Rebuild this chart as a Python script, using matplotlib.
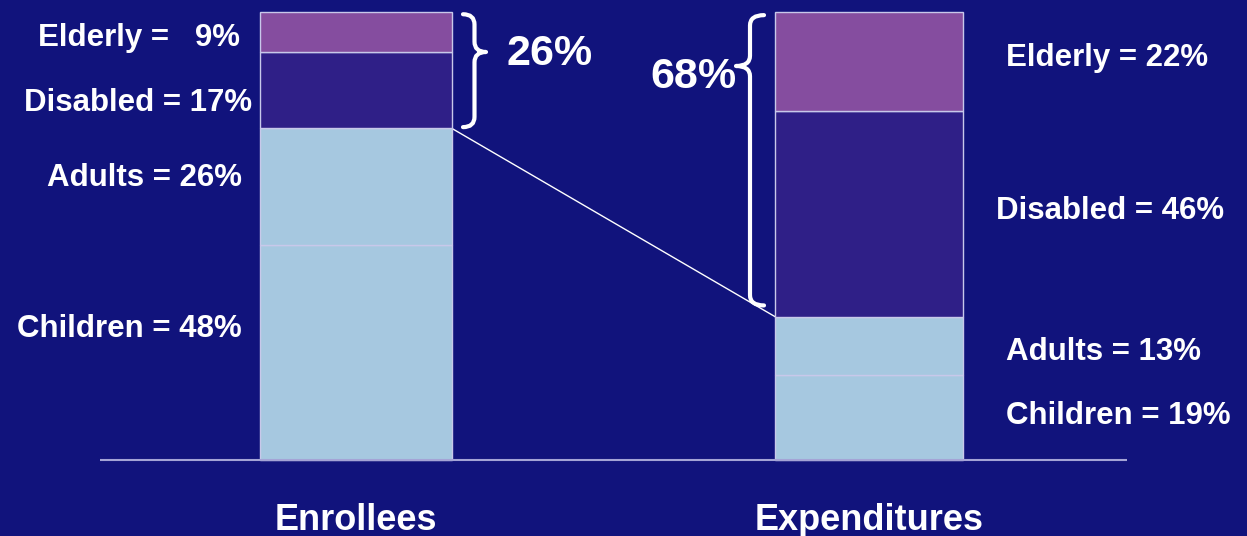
import matplotlib.pyplot as plt
from matplotlib.path import Path
from matplotlib.patches import PathPatch

# data
groups = ['Enrollees', 'Expenditures']
segments = ['Children', 'Adults', 'Disabled', 'Elderly']
enrollees = [48, 26, 17, 9]
expenditures = [19, 13, 46, 22]
left_labels = ['Children = 48%', 'Adults = 26%', 'Disabled = 17%', 'Elderly =   9%']
right_labels = ['Children = 19%', 'Adults = 13%', 'Disabled = 46%', 'Elderly = 22%']
share_enrollees = '26%'
share_expenditures = '68%'

BG = '#11137c'
COLORS = ['#a6c8e0', '#a6c8e0', '#2f1f87', '#854d9f']
EDGE = '#c8c8ea'
W, H = 1247, 536
BASE_PX, TOP_PX = 460, 12
PX_PER_PCT = (BASE_PX - TOP_PX) / 100


def pct(py):
    # pixel row -> percent units on the y scale
    return (BASE_PX - py) / PX_PER_PCT


def brace(ax, x0, x1, top, bot, tip, r=2.3, lw=3):
    xm = (x0 + x1) / 2
    verts = [(x0, top), (xm, top), (xm, top - r), (xm, tip + r),
             (xm, tip), (x1, tip), (xm, tip), (xm, tip - r),
             (xm, bot + r), (xm, bot), (x0, bot)]
    codes = [Path.MOVETO, Path.CURVE3, Path.CURVE3, Path.LINETO,
             Path.CURVE3, Path.CURVE3, Path.CURVE3, Path.CURVE3,
             Path.LINETO, Path.CURVE3, Path.CURVE3]
    ax.add_patch(PathPatch(Path(verts, codes), fill=False, ec='white',
                           lw=lw, capstyle='round', joinstyle='round'))


plt.rcParams['font.family'] = ['Liberation Sans', 'DejaVu Sans']
fig = plt.figure(figsize=(W / 100, H / 100), dpi=100, facecolor=BG)
ax = fig.add_axes([0, 0, 1, 1])
ax.set_facecolor(BG)
ax.set_xlim(0, W)
ax.set_ylim(pct(H), pct(0))
ax.axis('off')

centers = [356, 869]
widths = [192, 188]
for xc, w, vals in zip(centers, widths, [enrollees, expenditures]):
    bottom = 0
    for v, c in zip(vals, COLORS):
        ax.bar(xc, v, bottom=bottom, width=w, color=c, edgecolor=EDGE,
               linewidth=1, zorder=2)
        bottom += v

ax.hlines(0, 100, 1127, color='#a4a4d6', lw=1.5, zorder=3)

# connector from top of adults (enrollees) to top of adults (expenditures)
y_left = enrollees[0] + enrollees[1]
y_right = expenditures[0] + expenditures[1]
ax.plot([centers[0] + widths[0] / 2, centers[1] - widths[1] / 2],
        [y_left, y_right], color='white', lw=1, zorder=1)

brace(ax, 463, 486, 99.5, y_left + 0.3, pct(52))
ax.text(507, pct(54), share_enrollees, color='white', fontsize=31,
        fontweight='bold', ha='left', va='center')
brace(ax, 764, 736, 99.3, y_right + 2.5, pct(66))
ax.text(736, pct(77), share_expenditures, color='white', fontsize=31,
        fontweight='bold', ha='right', va='center')

lab_kw = dict(color='white', fontsize=22.5, fontweight='bold', va='center')
left_x = [242, 242, 252, 240]
left_y = [329, 178, 103, 38]
for t, x, y in zip(left_labels, left_x, left_y):
    ax.text(x, pct(y), t, ha='right', **lab_kw)
right_x = [1006, 1006, 996, 1006]
right_y = [416, 352, 211, 58]
for t, x, y in zip(right_labels, right_x, right_y):
    ax.text(x, pct(y), t, ha='left', **lab_kw)

for xc, g in zip(centers, groups):
    ax.text(xc, pct(520), g, color='white', fontsize=26, fontweight='bold',
            ha='center', va='center')

fig.savefig('out.png', dpi=100, facecolor=BG)
